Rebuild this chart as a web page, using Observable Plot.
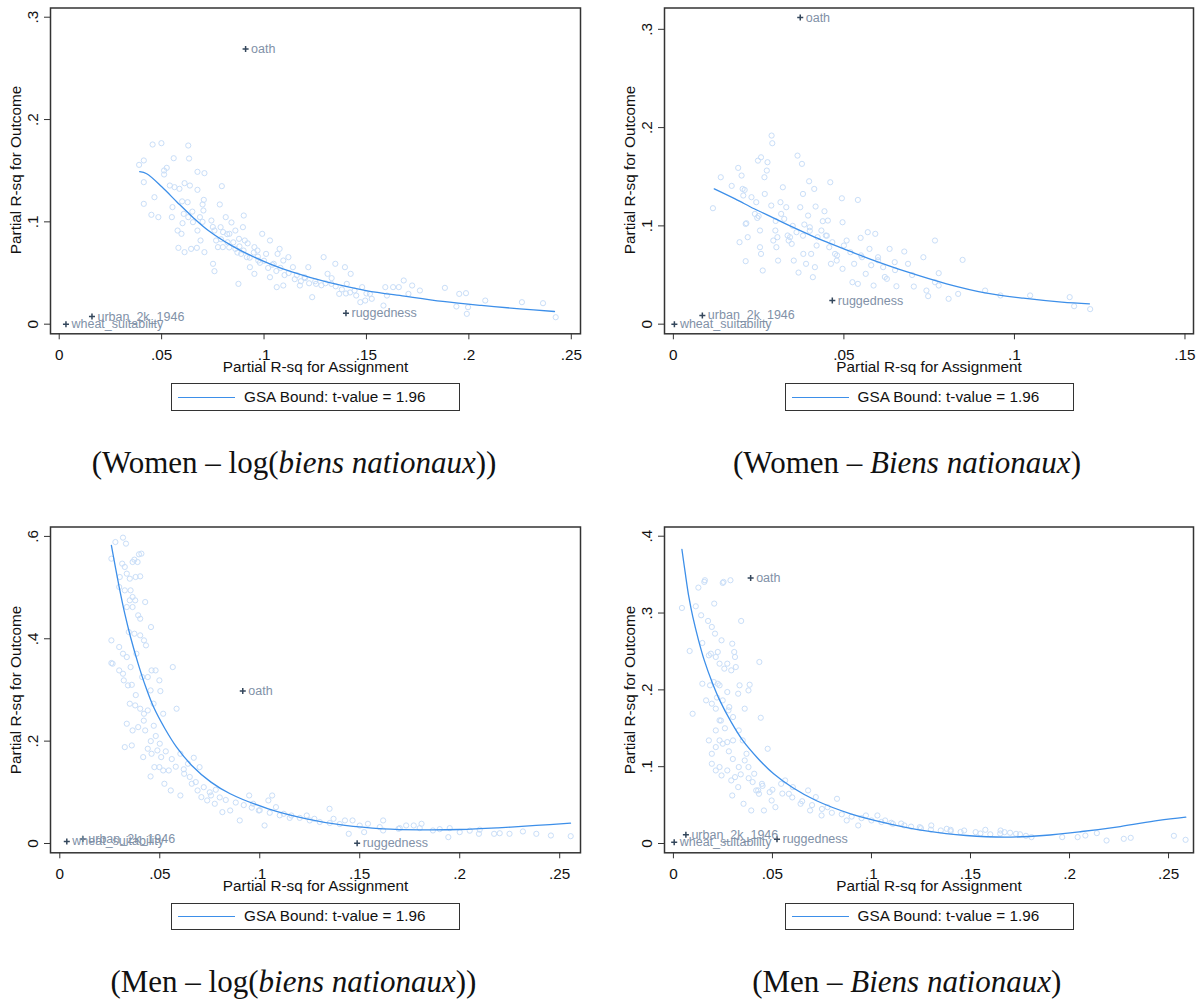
<!DOCTYPE html>
<html><head><meta charset="utf-8">
<script src="https://cdn.jsdelivr.net/npm/d3@7"></script>
<script src="https://cdn.jsdelivr.net/npm/@observablehq/plot@0.6"></script>
<style>
html,body{margin:0;padding:0;background:#fff;overflow:hidden;}
#root{position:relative;width:1203px;height:1001px;background:#fff;}
.panel{position:absolute;}
.legend{position:absolute;box-sizing:border-box;border:1.5px solid #333;height:27.7px;font:15.3px "Liberation Sans",Arial,sans-serif;color:#111;background:#fff;}
.legend .sw{position:absolute;top:12.5px;height:0;border-top:1.3px solid #3d8fe9;}
.legend .lt{position:absolute;top:50%;transform:translateY(-50%);white-space:nowrap;line-height:1;}
.ytitle{position:absolute;font:15.3px "Liberation Sans",Arial,sans-serif;color:#111;white-space:nowrap;line-height:1;transform:translate(-50%,-50%) rotate(-90deg);}
.cap{position:absolute;font-family:"Liberation Serif","Times New Roman",serif;font-size:31px;white-space:nowrap;transform:translate(-50%,-50%);color:#111;line-height:1.1;}
</style></head><body><div id="root"></div>
<script>
// ---------- data ----------
const covariateNames = ["oath", "ruggedness", "urban_2k_1946", "wheat_suitability"];
const captions = [
  "(Women – log(<i>biens nationaux</i>))",
  "(Women – <i>Biens nationaux</i>)",
  "(Men – log(<i>biens nationaux</i>))",
  "(Men – <i>Biens nationaux</i>)"
];
const legendText = "GSA Bound: t-value = 1.96";
const xTitle = "Partial R-sq for Assignment";
const yTitle = "Partial R-sq for Outcome";

const xTicksWide = [0, 0.05, 0.1, 0.15, 0.2, 0.25];
const xTicksNarrow = [0, 0.05, 0.1, 0.15];
const yTicksWomenLog = [0, 0.1, 0.2, 0.3];
const yTicksWomenLevel = [0, 0.1, 0.2, 0.3];
const yTicksMenLog = [0, 0.2, 0.4, 0.6];
const yTicksMenLevel = [0, 0.1, 0.2, 0.3, 0.4];

// Women - log(biens nationaux)
const womenLogScatter = [[0.039,0.1557],[0.0413,0.160],[0.0456,0.1756],[0.0499,0.1769],[0.063,0.1746],[0.0413,0.1388],[0.0413,0.1176],[0.045,0.1069],[0.0484,0.1046],[0.0465,0.1241],[0.0512,0.1502],[0.0525,0.1528],[0.0559,0.1622],[0.0512,0.1463],[0.054,0.1355],[0.0563,0.1339],[0.0587,0.1323],[0.0553,0.1144],[0.055,0.1046],[0.0578,0.0915],[0.0597,0.0883],[0.0612,0.0704],[0.0582,0.0746],[0.0634,0.1619],[0.0638,0.1355],[0.0612,0.1378],[0.0608,0.1078],[0.0602,0.0987],[0.0627,0.1192],[0.063,0.1046],[0.0653,0.0997],[0.0644,0.0736],[0.0672,0.0746],[0.0675,0.1489],[0.0709,0.1476],[0.0675,0.1313],[0.0706,0.1215],[0.07,0.117],[0.0704,0.1111],[0.0687,0.1046],[0.0675,0.0915],[0.069,0.0818],[0.0709,0.0704],[0.0743,0.1013],[0.0758,0.0915],[0.0766,0.0818],[0.0784,0.117],[0.0794,0.1349],[0.0788,0.0948],[0.0751,0.059],[0.0758,0.0518],[0.0775,0.0753],[0.0799,0.0753],[0.0813,0.1046],[0.0831,0.0883],[0.0841,0.0994],[0.0822,0.0801],[0.086,0.0736],[0.086,0.0915],[0.0878,0.0834],[0.0901,0.1062],[0.0897,0.0948],[0.0906,0.0818],[0.0875,0.0394],[0.0888,0.0687],[0.0916,0.0655],[0.0931,0.0557],[0.0953,0.0753],[0.0968,0.072],[0.0991,0.0883],[0.0953,0.0492],[0.0972,0.0622],[0.101,0.0687],[0.1029,0.0818],[0.1047,0.059],[0.1066,0.0687],[0.1076,0.0736],[0.1094,0.0622],[0.1029,0.0459],[0.1062,0.0362],[0.1094,0.0378],[0.1119,0.0655],[0.1141,0.0557],[0.1175,0.0378],[0.1198,0.0459],[0.1216,0.0557],[0.1235,0.0264],[0.1254,0.0394],[0.1291,0.0655],[0.131,0.0492],[0.1329,0.0394],[0.1348,0.059],[0.1367,0.0296],[0.1395,0.0557],[0.1404,0.0394],[0.1423,0.0492],[0.1442,0.0329],[0.1479,0.0362],[0.1494,0.0231],[0.1517,0.0296],[0.1583,0.0182],[0.1592,0.0362],[0.163,0.0362],[0.1658,0.0362],[0.1682,0.0427],[0.1705,0.0296],[0.1723,0.0378],[0.1761,0.0329],[0.1883,0.0355],[0.1953,0.0296],[0.1986,0.0303],[0.1939,0.0173],[0.199,0.0101],[0.1996,0.0166],[0.208,0.0231],[0.2259,0.0215],[0.2362,0.0205],[0.2424,0.0068],[0.1526,0.0248],[0.147,0.0215],[0.085,0.08],[0.088,0.076],[0.092,0.079],[0.095,0.07],[0.1,0.062],[0.104,0.058],[0.108,0.055],[0.112,0.05],[0.116,0.048],[0.12,0.045],[0.125,0.042],[0.13,0.04],[0.135,0.037],[0.138,0.034],[0.142,0.031],[0.145,0.028],[0.079,0.083],[0.082,0.088],[0.09,0.072],[0.097,0.066],[0.06,0.12],[0.065,0.11],[0.07,0.1],[0.075,0.095],[0.08,0.09],[0.083,0.075],[0.087,0.07],[0.093,0.065],[0.098,0.06],[0.102,0.055],[0.106,0.052],[0.11,0.048],[0.115,0.044],[0.118,0.042],[0.122,0.04],[0.128,0.038],[0.133,0.045],[0.14,0.03],[0.15,0.03],[0.16,0.028]];
const womenLogBound = [[0.0393,0.149],[0.0427,0.147],[0.0502,0.134],[0.0577,0.119],[0.0652,0.1046],[0.0728,0.0916],[0.084,0.077],[0.0934,0.0672],[0.1028,0.059],[0.114,0.0508],[0.131,0.041],[0.1498,0.0329],[0.1685,0.0274],[0.1873,0.0222],[0.2061,0.0183],[0.2249,0.015],[0.2418,0.0124]];
const womenLogCovX = [0.091, 0.140, 0.016, 0.0033];
const womenLogCovY = [0.269, 0.0108, 0.0075, 0.0];

// Women - Biens nationaux
const womenLevelScatter = [[0.0116,0.118],[0.0139,0.1495],[0.0171,0.1407],[0.019,0.159],[0.02,0.1512],[0.0203,0.1376],[0.0209,0.1366],[0.0205,0.1309],[0.0212,0.102],[0.0214,0.1027],[0.0218,0.0885],[0.0212,0.0641],[0.0194,0.0834],[0.0229,0.1292],[0.0243,0.1241],[0.0239,0.1122],[0.0248,0.1664],[0.0254,0.0953],[0.0257,0.1698],[0.0246,0.1081],[0.0254,0.0783],[0.0257,0.0715],[0.0262,0.0546],[0.0268,0.1325],[0.0267,0.1495],[0.0274,0.1563],[0.0276,0.1648],[0.0288,0.1919],[0.029,0.1841],[0.0287,0.1207],[0.0293,0.0851],[0.0299,0.0953],[0.0302,0.0783],[0.0305,0.0885],[0.0307,0.0647],[0.0314,0.1241],[0.0321,0.1393],[0.0316,0.1122],[0.0325,0.1071],[0.0331,0.119],[0.0335,0.0902],[0.0338,0.0851],[0.0342,0.0885],[0.0347,0.0817],[0.0353,0.0647],[0.0361,0.0936],[0.0367,0.0525],[0.0364,0.1715],[0.0377,0.1631],[0.038,0.1325],[0.0372,0.119],[0.0384,0.1014],[0.0381,0.0715],[0.0389,0.0614],[0.0395,0.1105],[0.0398,0.1454],[0.04,0.0986],[0.0404,0.0715],[0.0409,0.0478],[0.0413,0.1376],[0.0417,0.1197],[0.0415,0.058],[0.0423,0.0885],[0.0434,0.0953],[0.0438,0.1048],[0.0443,0.1149],[0.0447,0.0902],[0.0453,0.1054],[0.0457,0.0783],[0.046,0.1444],[0.0462,0.0614],[0.0466,0.0834],[0.0474,0.0715],[0.0479,0.0647],[0.0494,0.1281],[0.0496,0.1037],[0.0496,0.0563],[0.0508,0.0851],[0.0519,0.0732],[0.0525,0.0427],[0.053,0.0614],[0.0541,0.1264],[0.0541,0.041],[0.0549,0.0878],[0.0553,0.0681],[0.0564,0.0512],[0.057,0.0936],[0.0575,0.0766],[0.0587,0.0393],[0.0592,0.0919],[0.06,0.0681],[0.0615,0.058],[0.0626,0.0461],[0.0634,0.0766],[0.0649,0.0631],[0.0654,0.0386],[0.0677,0.0739],[0.0688,0.0614],[0.0705,0.0383],[0.0733,0.0681],[0.0742,0.0342],[0.0747,0.0285],[0.0767,0.0851],[0.0778,0.0519],[0.0807,0.0258],[0.0835,0.0308],[0.0848,0.0654],[0.0959,0.0292],[0.1046,0.0292],[0.1162,0.0275],[0.1175,0.0183],[0.1222,0.0153],[0.0767,0.0427],[0.0778,0.0393],[0.0914,0.0342],[0.05,0.08],[0.055,0.07],[0.06,0.065],[0.065,0.055],[0.045,0.09],[0.04,0.095],[0.035,0.1],[0.03,0.105],[0.025,0.11],[0.07,0.05],[0.062,0.048],[0.058,0.06],[0.048,0.07],[0.042,0.08],[0.038,0.09]];
const womenLevelBound = [[0.012,0.1377],[0.0181,0.1275],[0.0237,0.1174],[0.0293,0.1082],[0.035,0.0987],[0.0406,0.0899],[0.0463,0.0818],[0.0519,0.074],[0.0575,0.0665],[0.0688,0.0529],[0.0801,0.0411],[0.0914,0.0319],[0.1026,0.0264],[0.1139,0.0224],[0.122,0.0207]];
const womenLevelCovX = [0.0372, 0.0466, 0.0085, 0.0003];
const womenLevelCovY = [0.312, 0.024, 0.0089, 0.0];

// Men - log(biens nationaux)
const menLogScatter = [[0.0278,0.589],[0.0316,0.5976],[0.0331,0.5859],[0.0258,0.5565],[0.0312,0.5468],[0.0325,0.5403],[0.03,0.5207],[0.0335,0.5272],[0.035,0.5174],[0.0364,0.55],[0.0373,0.5546],[0.0389,0.55],[0.0396,0.565],[0.0408,0.5663],[0.0379,0.5207],[0.0402,0.522],[0.0297,0.5012],[0.0325,0.4946],[0.0354,0.4946],[0.0364,0.4816],[0.035,0.4751],[0.0377,0.4751],[0.0335,0.462],[0.0364,0.462],[0.0392,0.4458],[0.0402,0.4392],[0.0427,0.4718],[0.0258,0.3969],[0.0297,0.3839],[0.0316,0.3708],[0.0335,0.3643],[0.0258,0.3526],[0.0345,0.4132],[0.0373,0.4099],[0.0402,0.4067],[0.0421,0.3969],[0.0431,0.3871],[0.0456,0.4229],[0.0383,0.3708],[0.0354,0.3447],[0.0412,0.3252],[0.044,0.3252],[0.0264,0.3513],[0.0297,0.3382],[0.032,0.3187],[0.0341,0.3089],[0.0316,0.3317],[0.035,0.2731],[0.0377,0.2698],[0.0402,0.2633],[0.0421,0.2535],[0.0335,0.234],[0.0364,0.2209],[0.0392,0.2274],[0.0427,0.2209],[0.0325,0.1883],[0.036,0.1916],[0.0459,0.3382],[0.0479,0.3382],[0.0498,0.3187],[0.0503,0.2978],[0.0454,0.2991],[0.0469,0.2731],[0.0517,0.2535],[0.0565,0.3447],[0.0584,0.2633],[0.0417,0.1688],[0.044,0.1851],[0.0459,0.1753],[0.0488,0.1818],[0.0507,0.1688],[0.0473,0.1492],[0.0498,0.1492],[0.0517,0.1427],[0.0545,0.1427],[0.0454,0.131],[0.0523,0.1167],[0.0555,0.1036],[0.0603,0.0938],[0.0603,0.1753],[0.0641,0.1558],[0.0622,0.1362],[0.067,0.1675],[0.0699,0.1492],[0.066,0.1167],[0.0689,0.1036],[0.0708,0.0906],[0.0737,0.0841],[0.0756,0.0938],[0.0775,0.0776],[0.0813,0.0613],[0.0852,0.0645],[0.09,0.045],[0.0947,0.0938],[0.0967,0.0776],[0.0995,0.0645],[0.1024,0.0352],[0.1043,0.0841],[0.1062,0.0938],[0.1081,0.071],[0.112,0.058],[0.1158,0.0547],[0.1235,0.0547],[0.1273,0.0482],[0.1349,0.0678],[0.1369,0.0482],[0.1426,0.045],[0.1464,0.045],[0.1541,0.0385],[0.1617,0.045],[0.1694,0.0287],[0.177,0.0352],[0.1809,0.0385],[0.1866,0.0254],[0.1943,0.0124],[0.2,0.0222],[0.2096,0.0189],[0.2172,0.0189],[0.2249,0.0189],[0.2316,0.0235],[0.2383,0.0189],[0.2456,0.0156],[0.2555,0.0143],[0.1732,0.0352],[0.1617,0.0254],[0.1445,0.0189],[0.1522,0.0222],[0.0455,0.2],[0.048,0.21],[0.05,0.195],[0.053,0.18],[0.056,0.165],[0.058,0.15],[0.062,0.145],[0.065,0.13],[0.068,0.12],[0.072,0.11],[0.075,0.1],[0.078,0.105],[0.08,0.09],[0.083,0.085],[0.088,0.08],[0.092,0.075],[0.096,0.07],[0.1,0.065],[0.105,0.06],[0.11,0.055],[0.115,0.05],[0.12,0.05],[0.125,0.045],[0.13,0.042],[0.135,0.04],[0.14,0.038],[0.15,0.035],[0.16,0.032],[0.17,0.03],[0.18,0.03],[0.19,0.028],[0.195,0.03],[0.205,0.025],[0.21,0.027],[0.22,0.02],[0.042,0.24],[0.044,0.26],[0.047,0.23],[0.038,0.29],[0.036,0.31]];
const menLogBound = [[0.0258,0.5826],[0.0278,0.540],[0.0297,0.501],[0.0325,0.449],[0.0354,0.403],[0.0392,0.351],[0.043,0.3056],[0.0469,0.2665],[0.0526,0.2242],[0.0584,0.1883],[0.066,0.1525],[0.0756,0.1199],[0.0852,0.0972],[0.1043,0.0678],[0.1234,0.0483],[0.1426,0.0352],[0.1617,0.0287],[0.1808,0.0267],[0.2,0.0273],[0.2191,0.0306],[0.2382,0.0352],[0.2554,0.0397]];
const menLogCovX = [0.0915, 0.1487, 0.0115, 0.0035];
const menLogCovY = [0.298, 0.0006, 0.009, 0.004];

// Men - Biens nationaux
const menLevelScatter = [[0.0043,0.3066],[0.0082,0.2506],[0.0097,0.1689],[0.0113,0.3088],[0.0126,0.3331],[0.014,0.2971],[0.0146,0.261],[0.0156,0.3405],[0.0159,0.3427],[0.0175,0.2897],[0.0179,0.2449],[0.0189,0.2471],[0.0194,0.2819],[0.0206,0.3123],[0.021,0.2732],[0.0214,0.2428],[0.0224,0.2493],[0.0233,0.2341],[0.0243,0.2645],[0.0249,0.3392],[0.0253,0.3405],[0.0257,0.2276],[0.0272,0.2341],[0.0288,0.3427],[0.0297,0.2601],[0.0307,0.2493],[0.0311,0.2428],[0.0315,0.2297],[0.0292,0.2254],[0.0342,0.2897],[0.0434,0.2363],[0.0146,0.208],[0.0165,0.1863],[0.0185,0.2059],[0.0204,0.2102],[0.0224,0.208],[0.0194,0.182],[0.0214,0.1755],[0.0233,0.2059],[0.0233,0.1603],[0.0214,0.1472],[0.0249,0.1863],[0.0272,0.1972],[0.0282,0.1776],[0.0278,0.1733],[0.0301,0.1646],[0.0327,0.195],[0.0334,0.2059],[0.036,0.1755],[0.0385,0.2067],[0.0379,0.1993],[0.0441,0.1637],[0.0179,0.1342],[0.0194,0.1168],[0.0214,0.1255],[0.0233,0.1342],[0.0249,0.1299],[0.0272,0.132],[0.0301,0.1342],[0.033,0.1472],[0.035,0.1342],[0.0369,0.1168],[0.0233,0.0995],[0.0243,0.0886],[0.0272,0.0951],[0.0292,0.0821],[0.0311,0.0864],[0.033,0.0995],[0.036,0.1081],[0.0379,0.0995],[0.0408,0.0908],[0.0428,0.0691],[0.0447,0.0777],[0.0476,0.1233],[0.0194,0.1038],[0.0214,0.0951],[0.0297,0.0625],[0.0327,0.0734],[0.0354,0.0517],[0.0393,0.043],[0.0418,0.0691],[0.0432,0.0647],[0.0457,0.043],[0.0486,0.0669],[0.0496,0.056],[0.0515,0.0473],[0.0544,0.0777],[0.0564,0.0821],[0.0583,0.0647],[0.0603,0.0734],[0.0642,0.0517],[0.068,0.0691],[0.069,0.043],[0.0719,0.0604],[0.0748,0.0365],[0.0778,0.0473],[0.0826,0.0582],[0.0875,0.03],[0.0933,0.0235],[0.0972,0.0365],[0.103,0.0365],[0.1069,0.03],[0.1108,0.0256],[0.1166,0.0235],[0.1244,0.0213],[0.1302,0.0235],[0.138,0.0191],[0.1468,0.0169],[0.1575,0.0178],[0.1652,0.0169],[0.173,0.0126],[0.1808,0.0083],[0.1963,0.0083],[0.2041,0.0083],[0.208,0.0104],[0.2138,0.0135],[0.2187,0.0039],[0.2274,0.0061],[0.2309,0.0074],[0.2527,0.01],[0.2586,0.0048],[0.1672,0.0148],[0.1526,0.0148],[0.14,0.0178],[0.04,0.08],[0.045,0.075],[0.05,0.07],[0.055,0.065],[0.06,0.06],[0.065,0.055],[0.07,0.05],[0.075,0.045],[0.08,0.04],[0.085,0.038],[0.09,0.035],[0.095,0.033],[0.1,0.03],[0.105,0.028],[0.11,0.027],[0.115,0.026],[0.12,0.022],[0.125,0.02],[0.13,0.018],[0.135,0.017],[0.14,0.016],[0.145,0.015],[0.155,0.013],[0.16,0.012],[0.165,0.013],[0.17,0.014],[0.175,0.012],[0.178,0.01],[0.03,0.11],[0.028,0.12],[0.034,0.09],[0.038,0.085],[0.026,0.15],[0.024,0.16],[0.022,0.19]];
const menLevelBound = [[0.0043,0.3827],[0.0059,0.3535],[0.0078,0.3209],[0.0098,0.2949],[0.0127,0.2645],[0.0156,0.2384],[0.0195,0.2102],[0.0234,0.1863],[0.0292,0.158],[0.035,0.1342],[0.0428,0.1104],[0.0506,0.0908],[0.0603,0.0726],[0.072,0.056],[0.0895,0.0387],[0.109,0.0257],[0.1284,0.016],[0.1478,0.0104],[0.1672,0.0082],[0.1867,0.0104],[0.2062,0.0156],[0.2256,0.0221],[0.245,0.03],[0.2587,0.0343]];
const menLevelCovX = [0.039, 0.0523, 0.0063, 0.0004];
const menLevelCovY = [0.3457, 0.0056, 0.0113, 0.0017];

// ---------- layout ----------
const panels = [
  {left: 0, top: 0, width: 600, ml: 50, mr: 20, xDomain: [-0.00425, 0.2545], yDomain: [-0.0094, 0.309], xTicks: xTicksWide, yTicks: yTicksWomenLog, scatter: womenLogScatter, bound: womenLogBound, covX: womenLogCovX, covY: womenLogCovY, legLeft: 171, capX: 294, capY: 463, caption: captions[0]},
  {left: 600, top: 0, width: 603, ml: 64, mr: 10, xDomain: [-0.0026, 0.1525], yDomain: [-0.0098, 0.3217], xTicks: xTicksNarrow, yTicks: yTicksWomenLevel, scatter: womenLevelScatter, bound: womenLevelBound, covX: womenLevelCovX, covY: womenLevelCovY, legLeft: 784.6, capX: 907, capY: 463, caption: captions[1]},
  {left: 0, top: 519.2, width: 600, ml: 50, mr: 20, xDomain: [-0.00465, 0.2604], yDomain: [-0.0182, 0.6184], xTicks: xTicksWide, yTicks: yTicksMenLog, scatter: menLogScatter, bound: menLogBound, covX: menLogCovX, covY: menLogCovY, legLeft: 171, capX: 293.4, capY: 981.5, caption: captions[2]},
  {left: 600, top: 519.2, width: 603, ml: 64, mr: 10, xDomain: [-0.0045, 0.2626], yDomain: [-0.0121, 0.412], xTicks: xTicksWide, yTicks: yTicksMenLevel, scatter: menLevelScatter, bound: menLevelBound, covX: menLevelCovX, covY: menLevelCovY, legLeft: 784.6, capX: 906.7, capY: 981.5, caption: captions[3]}
];

const fmt = d => d === 0 ? "0" : String(+d.toFixed(3)).replace(/^0\./, ".");
const root = document.getElementById("root");
const covIdx = covariateNames.map((_, i) => i);
const mTop = 7.5, mBottom = 46.7, H = 380;

for (const p of panels) {
  const fig = Plot.plot({
    width: p.width, height: H,
    marginLeft: p.ml, marginRight: p.mr, marginTop: mTop, marginBottom: mBottom,
    x: {domain: p.xDomain},
    y: {domain: p.yDomain},
    style: {fontFamily: '"Liberation Sans", Arial, sans-serif', fontSize: "15.3px", color: "#111", background: "transparent", overflow: "visible"},
    marks: [
      Plot.dot(p.scatter, {x: d => d[0], y: d => d[1], r: 2.6, stroke: "#c9def8", strokeWidth: 1, fill: "none"}),
      Plot.line(p.bound, {x: d => d[0], y: d => d[1], curve: "catmull-rom", stroke: "#3d8fe9", strokeWidth: 1.3}),
      Plot.dot(covIdx, {x: i => p.covX[i], y: i => p.covY[i], symbol: "plus", r: 2.1, stroke: "#34475c", strokeWidth: 1.5}),
      Plot.text(covIdx, {x: i => p.covX[i], y: i => p.covY[i], text: i => covariateNames[i], textAnchor: "start", dx: 5.5, fill: "#8191a7", fontSize: 12.5}),
      Plot.frame({stroke: "#333", strokeWidth: 1.5}),
      Plot.axisX({ticks: p.xTicks, tickSize: 6, tickPadding: 9, tickFormat: fmt, label: null, stroke: "#333"}),
      Plot.axisY({ticks: p.yTicks, tickSize: 6, tickPadding: 6.7, tickRotate: -90, tickFormat: fmt, label: null, stroke: "#333"}),
      Plot.text([xTitle], {frameAnchor: "bottom", dy: 33.4, lineAnchor: "middle", fill: "#111"})
    ]
  });
  const wrap = document.createElement("div");
  wrap.className = "panel";
  wrap.style.left = p.left + "px";
  wrap.style.top = p.top + "px";
  wrap.appendChild(fig);
  root.appendChild(wrap);

  // y-axis title, centred on the frame, 34px left of it
  const yt = document.createElement("div");
  yt.className = "ytitle";
  yt.style.left = (p.left + p.ml - 34) + "px";
  yt.style.top = (p.top + (mTop + H - mBottom) / 2) + "px";
  yt.textContent = yTitle;
  root.appendChild(yt);

  const leg = document.createElement("div");
  leg.className = "legend";
  leg.style.left = p.legLeft + "px";
  leg.style.top = (p.top + 383.3) + "px";
  leg.style.width = "289px";
  leg.innerHTML = `<div class="sw" style="left:6px;width:57px"></div><div class="lt" style="left:72px">${legendText}</div>`;
  root.appendChild(leg);

  const cap = document.createElement("div");
  cap.className = "cap";
  cap.style.left = p.capX + "px";
  cap.style.top = p.capY + "px";
  cap.innerHTML = p.caption;
  root.appendChild(cap);
}
</script></body></html>
